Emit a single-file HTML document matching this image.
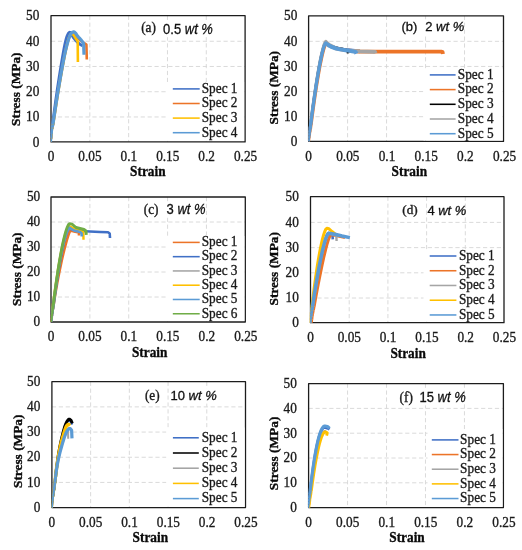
<!DOCTYPE html>
<html lang="en">
<head>
<meta charset="utf-8">
<title>Stress-strain curves</title>
<style>
html,body{margin:0;padding:0;background:#fff;}
body{width:522px;height:550px;overflow:hidden;}
svg{display:block;filter:blur(0.5px);}
.t{font-family:'Liberation Serif', serif;font-size:15.6px;fill:#1a1a1a;stroke:#1a1a1a;stroke-width:0.36px;}
.b{font-family:'Liberation Serif', serif;font-size:15.6px;font-weight:bold;fill:#0a0a0a;stroke:#0a0a0a;stroke-width:0.35px;}
.s{font-family:'Liberation Sans', sans-serif;font-size:15.0px;fill:#101010;stroke:#101010;stroke-width:0.3px;}
.g{stroke:#D6D6D6;stroke-width:0.9;stroke-dasharray:4.2 2.7;fill:none;}
.c{fill:none;stroke-linejoin:round;stroke-linecap:butt;}
</style>
</head>
<body>
<svg xmlns="http://www.w3.org/2000/svg" width="522" height="550" viewBox="0 0 522 550">
<rect x="-10" y="-10" width="542" height="570" fill="#ffffff"/>
<g id="panel-a">
<line class="g" x1="89.82" y1="15.7" x2="89.82" y2="141.9"/>
<line class="g" x1="128.64" y1="15.7" x2="128.64" y2="141.9"/>
<line class="g" x1="167.46" y1="15.7" x2="167.46" y2="141.9"/>
<line class="g" x1="206.28" y1="15.7" x2="206.28" y2="141.9"/>
<line class="g" x1="51" y1="116.96" x2="245.1" y2="116.96"/>
<line class="g" x1="51" y1="91.72" x2="245.1" y2="91.72"/>
<line class="g" x1="51" y1="66.48" x2="245.1" y2="66.48"/>
<line class="g" x1="51" y1="41.24" x2="245.1" y2="41.24"/>
<rect x="51" y="15.7" width="194.1" height="126.2" fill="none" stroke="#1c1c1c" stroke-width="1.3" stroke-linejoin="round"/>
<polyline class="c" stroke="#4070C6" stroke-width="1.43" points="51.2,141.9 51.26,140.56 51.34,138.67"/>
<polyline class="c" stroke="#4070C6" stroke-width="1.78" points="51.34,138.67 51.43,136.45 51.54,134.12"/>
<polyline class="c" stroke="#4070C6" stroke-width="2.13" points="51.54,134.12 51.66,131.9 51.8,130 51.92,128.72"/>
<polyline class="c" stroke="#4070C6" stroke-width="2.48" points="51.92,128.72 52.01,127.93 52.11,127.26"/>
<polyline class="c" stroke="#4070C6" stroke-width="2.83" points="52.11,127.26 52.27,126.3 52.52,124.68"/>
<polyline class="c" stroke="#4070C6" stroke-width="3.0" points="52.52,124.68 52.9,122 54.85,107.5 55.66,101.56 56.49,95.61 57.3,90 58.13,84.49 59.02,78.77 59.92,73.04 60.81,67.53 61.65,62.45 62.4,58 63.05,54.22 63.64,50.93 64.18,48.07 64.68,45.56 65.15,43.33 65.6,41.3 66.03,39.55 66.42,38.16 66.79,37.04 67.13,36.13 67.8,34.6 68.13,33.94 68.44,33.41 68.74,33.02 69.03,32.73 69.6,32.4 69.88,32.35 70.14,32.4 70.4,32.54 70.92,33.05 71.2,33.4 71.47,33.84 72.27,35.66 72.6,36.34 73,37 73.48,37.68 74.04,38.4 74.64,39.14 75.27,39.87 75.9,40.56 76.5,41.2 77.09,41.79 77.7,42.35 78.9,43.36 80,44.2 80.52,44.54 81.52,45.09 82.6,45.6"/>
<polyline class="c" stroke="#EC7428" stroke-width="1.24" points="51.3,141.9 51.38,140.56 51.49,138.67"/>
<polyline class="c" stroke="#EC7428" stroke-width="1.54" points="51.49,138.67 51.62,136.45 51.77,134.12"/>
<polyline class="c" stroke="#EC7428" stroke-width="1.85" points="51.77,134.12 51.93,131.9 52.1,130 52.24,128.72"/>
<polyline class="c" stroke="#EC7428" stroke-width="2.15" points="52.24,128.72 52.36,127.93 52.49,127.26"/>
<polyline class="c" stroke="#EC7428" stroke-width="2.45" points="52.49,127.26 52.67,126.3 52.96,124.68"/>
<polyline class="c" stroke="#EC7428" stroke-width="2.6" points="52.96,124.68 53.4,122 55.62,107.5 56.54,101.56 57.48,95.61 58.4,90 59.33,84.49 60.32,78.77 61.32,73.04 62.31,67.53 63.25,62.45 64.1,58 64.86,54.22 65.55,50.93 66.19,48.08 66.79,45.57 67.35,43.33 67.9,41.3 68.42,39.53 68.89,38.1 69.34,36.95 69.76,36.01 70.18,35.21 70.6,34.5 71.02,33.9 71.42,33.48 71.81,33.2 72.2,33.04 72.6,32.99 73,33 73.39,33.1 73.75,33.3 74.12,33.59 75.5,35 76.11,35.67 77.51,37.34 78.29,38.26 79.12,39.16 80,40 81.03,40.83 82.23,41.7 83.48,42.56 85.68,44.02 86.4,44.5 86.8,59.5"/>
<polyline class="c" stroke="#FFC000" stroke-width="1.24" points="51.3,141.9 51.39,140.56 51.52,138.67"/>
<polyline class="c" stroke="#FFC000" stroke-width="1.54" points="51.52,138.67 51.67,136.45 51.84,134.12"/>
<polyline class="c" stroke="#FFC000" stroke-width="1.85" points="51.84,134.12 52.02,131.9 52.2,130 52.35,128.72"/>
<polyline class="c" stroke="#FFC000" stroke-width="2.15" points="52.35,128.72 52.47,127.93 52.59,127.26"/>
<polyline class="c" stroke="#FFC000" stroke-width="2.45" points="52.59,127.26 52.78,126.3 53.06,124.68"/>
<polyline class="c" stroke="#FFC000" stroke-width="2.6" points="53.06,124.68 53.5,122 55.73,107.5 56.64,101.56 57.58,95.61 58.5,90 59.43,84.49 60.42,78.77 61.43,73.04 62.42,67.53 63.36,62.45 64.2,58 64.95,54.21 65.63,50.92 66.25,48.06 66.83,45.54 67.38,43.32 67.9,41.3 68.39,39.56 68.84,38.17 69.26,37.07 69.65,36.18 70.03,35.45 70.4,34.8 70.76,34.27 71.1,33.92 71.43,33.72 71.74,33.66 72.07,33.69 72.4,33.8 72.73,34.01 73.05,34.34 73.71,35.29 75.6,38.18 77.7,41.5 77.9,62"/>
<polyline class="c" stroke="#5B9BD5" stroke-width="1.53" points="51.3,141.9 51.37,140.56 51.46,138.67"/>
<polyline class="c" stroke="#5B9BD5" stroke-width="1.9" points="51.46,138.67 51.57,136.45 51.7,134.12"/>
<polyline class="c" stroke="#5B9BD5" stroke-width="2.27" points="51.7,134.12 51.84,131.9 52,130 52.14,128.72"/>
<polyline class="c" stroke="#5B9BD5" stroke-width="2.64" points="52.14,128.72 52.25,127.93 52.38,127.26"/>
<polyline class="c" stroke="#5B9BD5" stroke-width="3.01" points="52.38,127.26 52.57,126.3 52.86,124.68"/>
<polyline class="c" stroke="#5B9BD5" stroke-width="3.2" points="52.86,124.68 53.3,122 55.52,107.5 56.44,101.56 57.38,95.61 58.3,90 59.23,84.49 60.21,78.77 61.21,73.04 62.2,67.53 63.14,62.45 64,58 64.78,54.22 65.5,50.95 66.18,48.11 66.82,45.6 67.42,43.36 68,41.3 68.54,39.48 69.03,37.98 69.48,36.74 69.92,35.7 70.35,34.81 70.8,34 71.26,33.31 71.73,32.79 72.19,32.41 72.65,32.16 73.09,31.99 73.5,31.9 73.88,31.9 74.23,32 74.57,32.21 75.24,32.82 75.98,33.65 76.74,34.78 77.56,36.02 78,36.6 78.47,37.14 80.01,38.71 80.52,39.25 81,39.8 81.49,40.42 82.49,41.8 83.6,43.4 84,54.8"/>
<rect x="166.3" y="82" width="77.8" height="58.9" fill="#fff"/>
<line x1="172.8" y1="88.9" x2="199.7" y2="88.9" stroke="#4070C6" stroke-width="1.55"/>
<text class="t" transform="translate(201.7 92.7) scale(0.853 1)">Spec 1</text>
<line x1="172.8" y1="103.5" x2="199.7" y2="103.5" stroke="#EC7428" stroke-width="1.55"/>
<text class="t" transform="translate(201.7 107.3) scale(0.853 1)">Spec 2</text>
<line x1="172.8" y1="118.1" x2="199.7" y2="118.1" stroke="#FFC000" stroke-width="1.55"/>
<text class="t" transform="translate(201.7 121.9) scale(0.853 1)">Spec 3</text>
<line x1="172.8" y1="132.7" x2="199.7" y2="132.7" stroke="#5B9BD5" stroke-width="1.55"/>
<text class="t" transform="translate(201.7 136.5) scale(0.853 1)">Spec 4</text>
<rect x="140.7" y="21.8" width="14.5" height="15.4" fill="#fff"/>
<rect x="162.8" y="21.8" width="50.5" height="15.4" fill="#fff"/>
<text class="t" transform="translate(141.2 32.4) scale(0.95 1)"><tspan font-size="14.0px">(a)</tspan></text>
<text class="s" transform="translate(163.1 33.6) scale(0.909 1)"><tspan font-size="14.3px">0.5 <tspan font-style="italic">wt %</tspan></tspan></text>
<text class="t" text-anchor="end" transform="translate(39.4 146.5) scale(0.853 1)">0</text>
<text class="t" text-anchor="end" transform="translate(39.4 121.26) scale(0.853 1)">10</text>
<text class="t" text-anchor="end" transform="translate(39.4 96.02) scale(0.853 1)">20</text>
<text class="t" text-anchor="end" transform="translate(39.4 70.78) scale(0.853 1)">30</text>
<text class="t" text-anchor="end" transform="translate(39.4 45.54) scale(0.853 1)">40</text>
<text class="t" text-anchor="end" transform="translate(39.4 20.3) scale(0.853 1)">50</text>
<text class="t" text-anchor="middle" transform="translate(51 161.2) scale(0.881 1)"><tspan font-size="15.1px">0</tspan></text>
<text class="t" text-anchor="middle" transform="translate(89.92 161.2) scale(0.881 1)"><tspan font-size="15.1px">0.05</tspan></text>
<text class="t" text-anchor="middle" transform="translate(128.84 161.2) scale(0.881 1)"><tspan font-size="15.1px">0.1</tspan></text>
<text class="t" text-anchor="middle" transform="translate(167.76 161.2) scale(0.881 1)"><tspan font-size="15.1px">0.15</tspan></text>
<text class="t" text-anchor="middle" transform="translate(206.68 161.2) scale(0.881 1)"><tspan font-size="15.1px">0.2</tspan></text>
<text class="t" text-anchor="middle" transform="translate(245.6 161.2) scale(0.881 1)"><tspan font-size="15.1px">0.25</tspan></text>
<text class="b" text-anchor="middle" transform="translate(147.8 176) scale(0.853 1)">Strain</text>
<text class="b" text-anchor="middle" transform="translate(20.3 89.2) rotate(-90) scale(1.052 1)"><tspan font-size="12.7px">Stress (MPa)</tspan></text>
</g>
<g id="panel-b">
<line class="g" x1="347.58" y1="15.8" x2="347.58" y2="141.4"/>
<line class="g" x1="386.56" y1="15.8" x2="386.56" y2="141.4"/>
<line class="g" x1="425.54" y1="15.8" x2="425.54" y2="141.4"/>
<line class="g" x1="464.52" y1="15.8" x2="464.52" y2="141.4"/>
<line class="g" x1="308.6" y1="116.68" x2="503.5" y2="116.68"/>
<line class="g" x1="308.6" y1="91.56" x2="503.5" y2="91.56"/>
<line class="g" x1="308.6" y1="66.44" x2="503.5" y2="66.44"/>
<line class="g" x1="308.6" y1="41.32" x2="503.5" y2="41.32"/>
<rect x="308.6" y="15.8" width="194.9" height="125.6" fill="none" stroke="#1c1c1c" stroke-width="1.3" stroke-linejoin="round"/>
<polyline class="c" stroke="#4070C6" stroke-width="1.34" points="308.9,141.4 309.02,139.9 309.13,138.4"/>
<polyline class="c" stroke="#4070C6" stroke-width="1.66" points="309.13,138.4 309.25,136.9 309.37,135.4"/>
<polyline class="c" stroke="#4070C6" stroke-width="1.99" points="309.37,135.4 309.48,133.9 309.6,132.4"/>
<polyline class="c" stroke="#4070C6" stroke-width="2.31" points="309.6,132.4 309.82,130.61 310.04,128.82"/>
<polyline class="c" stroke="#4070C6" stroke-width="2.64" points="310.04,128.82 310.27,127.03 310.49,125.27"/>
<polyline class="c" stroke="#4070C6" stroke-width="2.8" points="310.49,125.27 311.6,116.59 312.27,111.54 312.93,106.6 313.6,101.77 314.27,97.07 314.93,92.48 315.6,88.03 316.27,83.7 316.93,79.51 317.6,75.47 318.27,71.57 318.93,67.83 319.6,64.26 320.27,60.86 320.93,57.64 321.6,54.63 322.27,51.84 322.93,49.28 323.6,47 324.27,45.05 324.93,43.5 325.6,42.6 329,45 335,47.5 345,49.5 355,50.5"/>
<polyline class="c" stroke="#EC7428" stroke-width="1.63" points="309.3,141.4 309.42,139.9 309.53,138.4"/>
<polyline class="c" stroke="#EC7428" stroke-width="2.02" points="309.53,138.4 309.65,136.9 309.77,135.4"/>
<polyline class="c" stroke="#EC7428" stroke-width="2.41" points="309.77,135.4 309.88,133.9 310,132.4"/>
<polyline class="c" stroke="#EC7428" stroke-width="2.81" points="310,132.4 310.23,130.62 310.45,128.84"/>
<polyline class="c" stroke="#EC7428" stroke-width="3.2" points="310.45,128.84 310.68,127.06 310.9,125.32"/>
<polyline class="c" stroke="#EC7428" stroke-width="3.4" points="310.9,125.32 312.02,116.7 312.7,111.68 313.38,106.77 314.05,101.98 314.73,97.3 315.4,92.75 316.07,88.32 316.75,84.03 317.43,79.87 318.1,75.85 318.77,71.98 319.45,68.26 320.12,64.71 320.8,61.34 321.47,58.14 322.15,55.15 322.82,52.37 323.5,49.84 324.18,47.57 324.85,45.63 325.52,44.09 326.2,43.2 330,46 336,48.5 347,50.5 360,51.5"/>
<polyline class="c" stroke="#EC7428" stroke-width="2.77" points="347,50.6 348.62,50.71"/>
<polyline class="c" stroke="#EC7428" stroke-width="3.9" points="348.62,50.71 360,51.5 400,51.6 441,51.6 442.6,52.2 442.9,54"/>
<polyline class="c" stroke="#000000" stroke-width="1.15" points="308.9,141.4 309.02,139.9 309.13,138.4"/>
<polyline class="c" stroke="#000000" stroke-width="1.43" points="309.13,138.4 309.25,136.9 309.37,135.4"/>
<polyline class="c" stroke="#000000" stroke-width="1.7" points="309.37,135.4 309.48,133.9 309.6,132.4"/>
<polyline class="c" stroke="#000000" stroke-width="1.98" points="309.6,132.4 309.82,130.61 310.04,128.82"/>
<polyline class="c" stroke="#000000" stroke-width="2.26" points="310.04,128.82 310.27,127.03 310.49,125.27"/>
<polyline class="c" stroke="#000000" stroke-width="2.4" points="310.49,125.27 311.6,116.59 312.27,111.54 312.93,106.6 313.6,101.77 314.27,97.07 314.93,92.48 315.6,88.03 316.27,83.7 316.93,79.51 317.6,75.47 318.27,71.57 318.93,67.83 319.6,64.26 320.27,60.86 320.93,57.64 321.6,54.63 322.27,51.84 322.93,49.28 323.6,47 324.27,45.05 324.93,43.5 325.6,42.6 329,45 335,47.3 345,49.4 347.6,50.3 348,53.4"/>
<polyline class="c" stroke="#A5A5A5" stroke-width="1.53" points="308.9,141.4 309.02,139.9 309.13,138.4"/>
<polyline class="c" stroke="#A5A5A5" stroke-width="1.9" points="309.13,138.4 309.25,136.9 309.37,135.4"/>
<polyline class="c" stroke="#A5A5A5" stroke-width="2.27" points="309.37,135.4 309.48,133.9 309.6,132.4"/>
<polyline class="c" stroke="#A5A5A5" stroke-width="2.64" points="309.6,132.4 309.83,130.58 310.05,128.77"/>
<polyline class="c" stroke="#A5A5A5" stroke-width="3.01" points="310.05,128.77 310.28,126.95 310.5,125.17"/>
<polyline class="c" stroke="#A5A5A5" stroke-width="3.2" points="310.5,125.17 311.62,116.38 312.3,111.26 312.98,106.25 313.65,101.36 314.33,96.59 315,91.95 315.68,87.43 316.35,83.05 317.03,78.81 317.7,74.71 318.38,70.76 319.05,66.97 319.73,63.35 320.4,59.9 321.07,56.64 321.75,53.59 322.43,50.76 323.1,48.17 323.78,45.86 324.45,43.88 325.12,42.31 325.8,41.4 329,44.5 336,48 347,50.3 360,51.4"/>
<polyline class="c" stroke="#A5A5A5" stroke-width="2.7" points="347,50.4 348.62,50.52"/>
<polyline class="c" stroke="#A5A5A5" stroke-width="3.8" points="348.62,50.52 360,51.4 375,51.8 375.6,53.2"/>
<polyline class="c" stroke="#5B9BD5" stroke-width="1.58" points="309,141.4 309.12,139.9 309.23,138.4"/>
<polyline class="c" stroke="#5B9BD5" stroke-width="1.96" points="309.23,138.4 309.35,136.9 309.47,135.4"/>
<polyline class="c" stroke="#5B9BD5" stroke-width="2.34" points="309.47,135.4 309.58,133.9 309.7,132.4"/>
<polyline class="c" stroke="#5B9BD5" stroke-width="2.73" points="309.7,132.4 309.92,130.61 310.15,128.83"/>
<polyline class="c" stroke="#5B9BD5" stroke-width="3.11" points="310.15,128.83 310.37,127.04 310.59,125.29"/>
<polyline class="c" stroke="#5B9BD5" stroke-width="3.3" points="310.59,125.29 311.71,116.65 312.38,111.61 313.05,106.68 313.73,101.87 314.4,97.18 315.07,92.62 315.74,88.17 316.41,83.86 317.08,79.69 317.75,75.66 318.42,71.78 319.09,68.05 319.76,64.49 320.43,61.1 321.1,57.89 321.77,54.89 322.45,52.1 323.12,49.56 323.79,47.29 324.46,45.34 325.13,43.79 325.8,42.9 329,45.6 336,48.3"/>
<polyline class="c" stroke="#5B9BD5" stroke-width="2.84" points="326.6,43.6 327.8,44.6"/>
<polyline class="c" stroke="#5B9BD5" stroke-width="4.0" points="327.8,44.6 329,45.6 332,47.2 336,48.5 341,49.6 347,50.4 352,51.2 355.6,51.9 356.3,53.8"/>
<rect x="423.5" y="68.5" width="79" height="71.9" fill="#fff"/>
<line x1="429.8" y1="74.9" x2="455.6" y2="74.9" stroke="#4070C6" stroke-width="1.55"/>
<text class="t" transform="translate(457.8 78.7) scale(0.853 1)">Spec 1</text>
<line x1="429.8" y1="89.6" x2="455.6" y2="89.6" stroke="#EC7428" stroke-width="1.55"/>
<text class="t" transform="translate(457.8 93.4) scale(0.853 1)">Spec 2</text>
<line x1="429.8" y1="104.3" x2="455.6" y2="104.3" stroke="#000000" stroke-width="1.55"/>
<text class="t" transform="translate(457.8 108.1) scale(0.853 1)">Spec 3</text>
<line x1="429.8" y1="119" x2="455.6" y2="119" stroke="#A5A5A5" stroke-width="1.55"/>
<text class="t" transform="translate(457.8 122.8) scale(0.853 1)">Spec 4</text>
<line x1="429.8" y1="133.7" x2="455.6" y2="133.7" stroke="#5B9BD5" stroke-width="1.55"/>
<text class="t" transform="translate(457.8 137.5) scale(0.853 1)">Spec 5</text>
<rect x="400.9" y="19.2" width="14.5" height="15.4" fill="#fff"/>
<rect x="424.9" y="19.2" width="37.1" height="15.4" fill="#fff"/>
<text class="s" transform="translate(401.4 31.4) scale(0.985 1)"><tspan font-size="13.2px">(b)</tspan></text>
<text class="s" transform="translate(425.2 31) scale(1.0 1)"><tspan font-size="13.0px">2 <tspan font-style="italic">wt %</tspan></tspan></text>
<text class="t" text-anchor="end" transform="translate(297.3 146) scale(0.853 1)">0</text>
<text class="t" text-anchor="end" transform="translate(297.3 120.88) scale(0.853 1)">10</text>
<text class="t" text-anchor="end" transform="translate(297.3 95.76) scale(0.853 1)">20</text>
<text class="t" text-anchor="end" transform="translate(297.3 70.64) scale(0.853 1)">30</text>
<text class="t" text-anchor="end" transform="translate(297.3 45.52) scale(0.853 1)">40</text>
<text class="t" text-anchor="end" transform="translate(297.3 20.4) scale(0.853 1)">50</text>
<text class="t" text-anchor="middle" transform="translate(308.6 160.7) scale(0.881 1)"><tspan font-size="15.1px">0</tspan></text>
<text class="t" text-anchor="middle" transform="translate(347.8 160.7) scale(0.881 1)"><tspan font-size="15.1px">0.05</tspan></text>
<text class="t" text-anchor="middle" transform="translate(387 160.7) scale(0.881 1)"><tspan font-size="15.1px">0.1</tspan></text>
<text class="t" text-anchor="middle" transform="translate(426.2 160.7) scale(0.881 1)"><tspan font-size="15.1px">0.15</tspan></text>
<text class="t" text-anchor="middle" transform="translate(465.4 160.7) scale(0.881 1)"><tspan font-size="15.1px">0.2</tspan></text>
<text class="t" text-anchor="middle" transform="translate(504.6 160.7) scale(0.881 1)"><tspan font-size="15.1px">0.25</tspan></text>
<text class="b" text-anchor="middle" transform="translate(409.3 176.2) scale(0.853 1)">Strain</text>
<text class="b" text-anchor="middle" transform="translate(277.8 87.7) rotate(-90) scale(1.052 1)"><tspan font-size="12.7px">Stress (MPa)</tspan></text>
</g>
<g id="panel-c">
<line class="g" x1="89.86" y1="197" x2="89.86" y2="322"/>
<line class="g" x1="128.72" y1="197" x2="128.72" y2="322"/>
<line class="g" x1="167.58" y1="197" x2="167.58" y2="322"/>
<line class="g" x1="206.44" y1="197" x2="206.44" y2="322"/>
<line class="g" x1="51" y1="297" x2="245.3" y2="297"/>
<line class="g" x1="51" y1="272" x2="245.3" y2="272"/>
<line class="g" x1="51" y1="247" x2="245.3" y2="247"/>
<line class="g" x1="51" y1="222" x2="245.3" y2="222"/>
<rect x="51" y="197" width="194.3" height="125" fill="none" stroke="#1c1c1c" stroke-width="1.3" stroke-linejoin="round"/>
<polyline class="c" stroke="#EC7428" stroke-width="1.24" points="51.8,322 51.92,320.5 52.03,319"/>
<polyline class="c" stroke="#EC7428" stroke-width="1.54" points="52.03,319 52.15,317.5 52.27,316"/>
<polyline class="c" stroke="#EC7428" stroke-width="1.85" points="52.27,316 52.38,314.5 52.5,313"/>
<polyline class="c" stroke="#EC7428" stroke-width="2.15" points="52.5,313 52.76,311.19 53.01,309.38"/>
<polyline class="c" stroke="#EC7428" stroke-width="2.45" points="53.01,309.38 53.27,307.58 53.53,305.81"/>
<polyline class="c" stroke="#EC7428" stroke-width="2.6" points="53.53,305.81 54.05,302.29 54.85,297.15 55.67,292.15 56.5,287.3 57.34,282.6 58.19,278.06 59.03,273.67 59.88,269.45 60.73,265.39 61.56,261.5 62.39,257.78 63.21,254.25 64.02,250.9 64.8,247.75 65.57,244.81 66.31,242.07 67.02,239.57 67.71,237.3 68.36,235.29 68.98,233.56 69.56,232.15 70.1,231.11 70.6,230.6 74,231.5 78.8,232.5 79,235.5"/>
<polyline class="c" stroke="#4070C6" stroke-width="1.24" points="51.9,322 52.02,320.5 52.13,319"/>
<polyline class="c" stroke="#4070C6" stroke-width="1.54" points="52.13,319 52.25,317.5 52.37,316"/>
<polyline class="c" stroke="#4070C6" stroke-width="1.85" points="52.37,316 52.48,314.5 52.6,313"/>
<polyline class="c" stroke="#4070C6" stroke-width="2.15" points="52.6,313 52.83,311.15 53.07,309.29"/>
<polyline class="c" stroke="#4070C6" stroke-width="2.45" points="53.07,309.29 53.3,307.44 53.53,305.63"/>
<polyline class="c" stroke="#4070C6" stroke-width="2.6" points="53.53,305.63 54,302.02 54.7,296.74 55.4,291.62 56.1,286.65 56.8,281.83 57.5,277.17 58.2,272.67 58.9,268.33 59.6,264.17 60.3,260.18 61,256.37 61.7,252.75 62.4,249.32 63.1,246.09 63.8,243.07 64.5,240.27 65.2,237.7 65.9,235.37 66.6,233.31 67.3,231.53 68,230.09 68.7,229.02 69.4,228.5 74,230 80,231 100,232 108,232.3 109.7,233.5 110,238"/>
<polyline class="c" stroke="#A5A5A5" stroke-width="1.15" points="51.5,322 51.62,320.5 51.73,319"/>
<polyline class="c" stroke="#A5A5A5" stroke-width="1.43" points="51.73,319 51.85,317.5 51.97,316"/>
<polyline class="c" stroke="#A5A5A5" stroke-width="1.7" points="51.97,316 52.08,314.5 52.2,313"/>
<polyline class="c" stroke="#A5A5A5" stroke-width="1.98" points="52.2,313 52.44,311.13 52.67,309.27"/>
<polyline class="c" stroke="#A5A5A5" stroke-width="2.26" points="52.67,309.27 52.91,307.4 53.14,305.59"/>
<polyline class="c" stroke="#A5A5A5" stroke-width="2.4" points="53.14,305.59 53.62,301.95 54.33,296.65 55.03,291.49 55.74,286.49 56.45,281.64 57.16,276.96 57.87,272.43 58.58,268.07 59.28,263.88 59.99,259.87 60.7,256.04 61.41,252.4 62.12,248.95 62.83,245.7 63.53,242.66 64.24,239.84 64.95,237.25 65.66,234.91 66.37,232.83 67.08,231.05 67.78,229.59 68.49,228.53 69.2,228 74,230 80,231.5 82,234"/>
<polyline class="c" stroke="#FFC000" stroke-width="1.15" points="51.2,322 51.32,320.5 51.43,319"/>
<polyline class="c" stroke="#FFC000" stroke-width="1.43" points="51.43,319 51.55,317.5 51.67,316"/>
<polyline class="c" stroke="#FFC000" stroke-width="1.7" points="51.67,316 51.78,314.5 51.9,313"/>
<polyline class="c" stroke="#FFC000" stroke-width="1.98" points="51.9,313 52.14,311.09 52.38,309.18"/>
<polyline class="c" stroke="#FFC000" stroke-width="2.26" points="52.38,309.18 52.62,307.27 52.86,305.41"/>
<polyline class="c" stroke="#FFC000" stroke-width="2.4" points="52.86,305.41 53.34,301.69 54.06,296.26 54.78,290.99 55.5,285.87 56.23,280.91 56.95,276.11 57.67,271.48 58.39,267.01 59.11,262.73 59.83,258.62 60.55,254.7 61.27,250.97 61.99,247.44 62.71,244.11 63.43,241 64.15,238.12 64.88,235.47 65.6,233.07 66.32,230.95 67.04,229.12 67.76,227.63 68.48,226.54 69.2,226 74,228.5 80,230.5 83.3,232 83.5,239.7"/>
<polyline class="c" stroke="#5B9BD5" stroke-width="1.24" points="51.5,322 51.62,320.5 51.73,319"/>
<polyline class="c" stroke="#5B9BD5" stroke-width="1.54" points="51.73,319 51.85,317.5 51.97,316"/>
<polyline class="c" stroke="#5B9BD5" stroke-width="1.85" points="51.97,316 52.08,314.5 52.2,313"/>
<polyline class="c" stroke="#5B9BD5" stroke-width="2.15" points="52.2,313 52.44,311.12 52.67,309.25"/>
<polyline class="c" stroke="#5B9BD5" stroke-width="2.45" points="52.67,309.25 52.91,307.37 53.14,305.54"/>
<polyline class="c" stroke="#5B9BD5" stroke-width="2.6" points="53.14,305.54 53.62,301.89 54.33,296.55 55.03,291.37 55.74,286.33 56.45,281.46 57.16,276.74 57.87,272.19 58.58,267.81 59.28,263.59 59.99,259.56 60.7,255.7 61.41,252.04 62.12,248.57 62.83,245.3 63.53,242.24 64.24,239.41 64.95,236.8 65.66,234.45 66.37,232.36 67.08,230.57 67.78,229.1 68.49,228.03 69.2,227.5 74,230.5 80,232 81.5,233 81.8,236.5"/>
<polyline class="c" stroke="#70AD47" stroke-width="1.39" points="51.55,322 51.67,320.5 51.78,319"/>
<polyline class="c" stroke="#70AD47" stroke-width="1.72" points="51.78,319 51.9,317.5 52.02,316"/>
<polyline class="c" stroke="#70AD47" stroke-width="2.06" points="52.02,316 52.13,314.5 52.25,313"/>
<polyline class="c" stroke="#70AD47" stroke-width="2.4" points="52.25,313 52.49,311.04 52.73,309.08"/>
<polyline class="c" stroke="#70AD47" stroke-width="2.73" points="52.73,309.08 52.97,307.11 53.21,305.2"/>
<polyline class="c" stroke="#70AD47" stroke-width="2.9" points="53.21,305.2 53.7,301.38 54.42,295.8 55.14,290.38 55.86,285.12 56.59,280.02 57.31,275.09 58.03,270.33 58.76,265.74 59.48,261.34 60.2,257.12 60.92,253.09 61.65,249.26 62.37,245.63 63.09,242.21 63.82,239.01 64.54,236.05 65.26,233.33 65.99,230.87 66.71,228.69 67.43,226.81 68.15,225.28 68.88,224.15 69.6,223.6 72,224.2 76,227.5 84,229.5 86,231 86.3,234.8"/>
<rect x="166.3" y="236" width="78" height="85" fill="#fff"/>
<line x1="172.8" y1="242.4" x2="199.7" y2="242.4" stroke="#EC7428" stroke-width="1.55"/>
<text class="t" transform="translate(201.7 246.2) scale(0.853 1)">Spec 1</text>
<line x1="172.8" y1="256.67" x2="199.7" y2="256.67" stroke="#4070C6" stroke-width="1.55"/>
<text class="t" transform="translate(201.7 260.47) scale(0.853 1)">Spec 2</text>
<line x1="172.8" y1="270.94" x2="199.7" y2="270.94" stroke="#A5A5A5" stroke-width="1.55"/>
<text class="t" transform="translate(201.7 274.74) scale(0.853 1)">Spec 3</text>
<line x1="172.8" y1="285.21" x2="199.7" y2="285.21" stroke="#FFC000" stroke-width="1.55"/>
<text class="t" transform="translate(201.7 289.01) scale(0.853 1)">Spec 4</text>
<line x1="172.8" y1="299.48" x2="199.7" y2="299.48" stroke="#5B9BD5" stroke-width="1.55"/>
<text class="t" transform="translate(201.7 303.28) scale(0.853 1)">Spec 5</text>
<line x1="172.8" y1="313.75" x2="199.7" y2="313.75" stroke="#70AD47" stroke-width="1.55"/>
<text class="t" transform="translate(201.7 317.55) scale(0.853 1)">Spec 6</text>
<rect x="143.3" y="202" width="14.5" height="15.4" fill="#fff"/>
<rect x="166.3" y="202" width="37.1" height="15.4" fill="#fff"/>
<text class="t" transform="translate(143.8 213.5) scale(0.95 1)"><tspan font-size="14.0px">(c)</tspan></text>
<text class="s" transform="translate(166.6 213.8) scale(0.909 1)"><tspan font-size="14.3px">3 <tspan font-style="italic">wt %</tspan></tspan></text>
<text class="t" text-anchor="end" transform="translate(40.2 325.5) scale(0.853 1)">0</text>
<text class="t" text-anchor="end" transform="translate(40.2 300.5) scale(0.853 1)">10</text>
<text class="t" text-anchor="end" transform="translate(40.2 275.5) scale(0.853 1)">20</text>
<text class="t" text-anchor="end" transform="translate(40.2 250.5) scale(0.853 1)">30</text>
<text class="t" text-anchor="end" transform="translate(40.2 225.5) scale(0.853 1)">40</text>
<text class="t" text-anchor="end" transform="translate(40.2 200.5) scale(0.853 1)">50</text>
<text class="t" text-anchor="middle" transform="translate(51 341.3) scale(0.881 1)"><tspan font-size="15.1px">0</tspan></text>
<text class="t" text-anchor="middle" transform="translate(89.96 341.3) scale(0.881 1)"><tspan font-size="15.1px">0.05</tspan></text>
<text class="t" text-anchor="middle" transform="translate(128.92 341.3) scale(0.881 1)"><tspan font-size="15.1px">0.1</tspan></text>
<text class="t" text-anchor="middle" transform="translate(167.88 341.3) scale(0.881 1)"><tspan font-size="15.1px">0.15</tspan></text>
<text class="t" text-anchor="middle" transform="translate(206.84 341.3) scale(0.881 1)"><tspan font-size="15.1px">0.2</tspan></text>
<text class="t" text-anchor="middle" transform="translate(245.8 341.3) scale(0.881 1)"><tspan font-size="15.1px">0.25</tspan></text>
<text class="b" text-anchor="middle" transform="translate(149.7 357) scale(0.853 1)">Strain</text>
<text class="b" text-anchor="middle" transform="translate(20.6 269.2) rotate(-90) scale(1.052 1)"><tspan font-size="12.7px">Stress (MPa)</tspan></text>
</g>
<g id="panel-d">
<line class="g" x1="349.2" y1="196.7" x2="349.2" y2="322.7"/>
<line class="g" x1="387.9" y1="196.7" x2="387.9" y2="322.7"/>
<line class="g" x1="426.6" y1="196.7" x2="426.6" y2="322.7"/>
<line class="g" x1="465.3" y1="196.7" x2="465.3" y2="322.7"/>
<line class="g" x1="310.5" y1="298" x2="504" y2="298"/>
<line class="g" x1="310.5" y1="272.8" x2="504" y2="272.8"/>
<line class="g" x1="310.5" y1="247.6" x2="504" y2="247.6"/>
<line class="g" x1="310.5" y1="222.4" x2="504" y2="222.4"/>
<rect x="310.5" y="196.7" width="193.5" height="126" fill="none" stroke="#1c1c1c" stroke-width="1.3" stroke-linejoin="round"/>
<polyline class="c" stroke="#4070C6" stroke-width="1.24" points="311.1,322.7 311.22,321.2 311.33,319.7"/>
<polyline class="c" stroke="#4070C6" stroke-width="1.54" points="311.33,319.7 311.45,318.2 311.57,316.7"/>
<polyline class="c" stroke="#4070C6" stroke-width="1.85" points="311.57,316.7 311.68,315.2 311.8,313.7"/>
<polyline class="c" stroke="#4070C6" stroke-width="2.15" points="311.8,313.7 312.06,311.93 312.31,310.16"/>
<polyline class="c" stroke="#4070C6" stroke-width="2.45" points="312.31,310.16 312.57,308.39 312.83,306.66"/>
<polyline class="c" stroke="#4070C6" stroke-width="2.6" points="312.83,306.66 313.34,303.21 314.1,298.18 314.87,293.28 315.62,288.53 316.37,283.93 317.12,279.48 317.85,275.18 318.58,271.04 319.3,267.07 320,263.26 320.7,259.62 321.39,256.16 322.06,252.89 322.73,249.8 323.39,246.91 324.03,244.24 324.67,241.78 325.31,239.56 325.93,237.59 326.55,235.9 327.17,234.51 327.79,233.5 328.4,233 332.4,234.5 332.8,239.4"/>
<polyline class="c" stroke="#EC7428" stroke-width="1.43" points="312.2,322.7 312.32,321.2 312.43,319.7"/>
<polyline class="c" stroke="#EC7428" stroke-width="1.78" points="312.43,319.7 312.55,318.2 312.67,316.7"/>
<polyline class="c" stroke="#EC7428" stroke-width="2.13" points="312.67,316.7 312.78,315.2 312.9,313.7"/>
<polyline class="c" stroke="#EC7428" stroke-width="2.48" points="312.9,313.7 313.2,311.96 313.5,310.23"/>
<polyline class="c" stroke="#EC7428" stroke-width="2.83" points="313.5,310.23 313.79,308.49 314.09,306.8"/>
<polyline class="c" stroke="#EC7428" stroke-width="3.0" points="314.09,306.8 314.68,303.42 315.57,298.48 316.45,293.69 317.32,289.03 318.18,284.52 319.03,280.16 319.87,275.95 320.69,271.89 321.49,267.99 322.28,264.26 323.05,260.69 323.8,257.3 324.54,254.09 325.26,251.07 325.97,248.24 326.66,245.62 327.33,243.21 328,241.03 328.65,239.1 329.3,237.44 329.93,236.08 330.57,235.09 331.2,234.6 336,235.5 345,237.5"/>
<polyline class="c" stroke="#A5A5A5" stroke-width="1.15" points="311.1,322.7 311.22,321.2 311.33,319.7"/>
<polyline class="c" stroke="#A5A5A5" stroke-width="1.43" points="311.33,319.7 311.45,318.2 311.57,316.7"/>
<polyline class="c" stroke="#A5A5A5" stroke-width="1.7" points="311.57,316.7 311.68,315.2 311.8,313.7"/>
<polyline class="c" stroke="#A5A5A5" stroke-width="1.98" points="311.8,313.7 312.06,311.93 312.31,310.16"/>
<polyline class="c" stroke="#A5A5A5" stroke-width="2.26" points="312.31,310.16 312.57,308.39 312.83,306.66"/>
<polyline class="c" stroke="#A5A5A5" stroke-width="2.4" points="312.83,306.66 313.34,303.21 314.1,298.18 314.87,293.28 315.62,288.53 316.37,283.93 317.12,279.48 317.85,275.18 318.58,271.04 319.3,267.07 320,263.26 320.7,259.62 321.39,256.16 322.06,252.89 322.73,249.8 323.39,246.91 324.03,244.24 324.67,241.78 325.31,239.56 325.93,237.59 326.55,235.9 327.17,234.51 327.79,233.5 328.4,233 333,234.5 336.3,235.3 336.6,241"/>
<polyline class="c" stroke="#FFC000" stroke-width="1.43" points="310.3,322.7 310.42,321.2 310.53,319.7"/>
<polyline class="c" stroke="#FFC000" stroke-width="1.78" points="310.53,319.7 310.65,318.2 310.77,316.7"/>
<polyline class="c" stroke="#FFC000" stroke-width="2.13" points="310.77,316.7 310.88,315.2 311,313.7"/>
<polyline class="c" stroke="#FFC000" stroke-width="2.48" points="311,313.7 311.22,311.83 311.44,309.95"/>
<polyline class="c" stroke="#FFC000" stroke-width="2.83" points="311.44,309.95 311.66,308.08 311.88,306.25"/>
<polyline class="c" stroke="#FFC000" stroke-width="3.0" points="311.88,306.25 312.32,302.6 312.98,297.27 313.63,292.09 314.29,287.07 314.95,282.2 315.61,277.49 316.27,272.94 316.93,268.56 317.58,264.35 318.24,260.32 318.9,256.47 319.56,252.81 320.22,249.34 320.88,246.08 321.53,243.03 322.19,240.19 322.85,237.59 323.51,235.24 324.17,233.16 324.82,231.37 325.48,229.9 326.14,228.83 326.8,228.3 329,228.8 332,231.5 335,234"/>
<polyline class="c" stroke="#5B9BD5" stroke-width="1.67" points="310.7,322.7 310.82,321.2 310.93,319.7"/>
<polyline class="c" stroke="#5B9BD5" stroke-width="2.08" points="310.93,319.7 311.05,318.2 311.17,316.7"/>
<polyline class="c" stroke="#5B9BD5" stroke-width="2.48" points="311.17,316.7 311.28,315.2 311.4,313.7"/>
<polyline class="c" stroke="#5B9BD5" stroke-width="2.89" points="311.4,313.7 311.66,311.93 311.92,310.17"/>
<polyline class="c" stroke="#5B9BD5" stroke-width="3.3" points="311.92,310.17 312.18,308.4 312.44,306.68"/>
<polyline class="c" stroke="#5B9BD5" stroke-width="3.5" points="312.44,306.68 312.95,303.24 313.73,298.21 314.5,293.33 315.27,288.59 316.03,284 316.79,279.56 317.55,275.28 318.29,271.15 319.04,267.18 319.77,263.38 320.5,259.76 321.22,256.3 321.94,253.04 322.64,249.96 323.35,247.08 324.04,244.41 324.73,241.96 325.42,239.74 326.1,237.78 326.78,236.09 327.45,234.71 328.13,233.7 328.8,233.2 335,234.3 342,236 349.9,237.6"/>
<rect x="423.5" y="249.5" width="79.5" height="72.2" fill="#fff"/>
<line x1="429.7" y1="256" x2="456.4" y2="256" stroke="#4070C6" stroke-width="1.55"/>
<text class="t" transform="translate(458.9 259.8) scale(0.853 1)">Spec 1</text>
<line x1="429.7" y1="270.74" x2="456.4" y2="270.74" stroke="#EC7428" stroke-width="1.55"/>
<text class="t" transform="translate(458.9 274.54) scale(0.853 1)">Spec 2</text>
<line x1="429.7" y1="285.48" x2="456.4" y2="285.48" stroke="#A5A5A5" stroke-width="1.55"/>
<text class="t" transform="translate(458.9 289.28) scale(0.853 1)">Spec 3</text>
<line x1="429.7" y1="300.22" x2="456.4" y2="300.22" stroke="#FFC000" stroke-width="1.55"/>
<text class="t" transform="translate(458.9 304.02) scale(0.853 1)">Spec 4</text>
<line x1="429.7" y1="314.96" x2="456.4" y2="314.96" stroke="#5B9BD5" stroke-width="1.55"/>
<text class="t" transform="translate(458.9 318.76) scale(0.853 1)">Spec 5</text>
<rect x="401.7" y="202.8" width="14.5" height="15.4" fill="#fff"/>
<rect x="427.1" y="202.8" width="37.1" height="15.4" fill="#fff"/>
<text class="t" transform="translate(402.2 214) scale(1.008 1)"><tspan font-size="13.2px">(d)</tspan></text>
<text class="s" transform="translate(427.4 214.6) scale(0.985 1)"><tspan font-size="13.2px">4 <tspan font-style="italic">wt %</tspan></tspan></text>
<text class="t" text-anchor="end" transform="translate(298.9 327.3) scale(0.853 1)">0</text>
<text class="t" text-anchor="end" transform="translate(298.9 302.1) scale(0.853 1)">10</text>
<text class="t" text-anchor="end" transform="translate(298.9 276.9) scale(0.853 1)">20</text>
<text class="t" text-anchor="end" transform="translate(298.9 251.7) scale(0.853 1)">30</text>
<text class="t" text-anchor="end" transform="translate(298.9 226.5) scale(0.853 1)">40</text>
<text class="t" text-anchor="end" transform="translate(298.9 201.3) scale(0.853 1)">50</text>
<text class="t" text-anchor="middle" transform="translate(310.5 342.3) scale(0.881 1)"><tspan font-size="15.1px">0</tspan></text>
<text class="t" text-anchor="middle" transform="translate(349.3 342.3) scale(0.881 1)"><tspan font-size="15.1px">0.05</tspan></text>
<text class="t" text-anchor="middle" transform="translate(388.1 342.3) scale(0.881 1)"><tspan font-size="15.1px">0.1</tspan></text>
<text class="t" text-anchor="middle" transform="translate(426.9 342.3) scale(0.881 1)"><tspan font-size="15.1px">0.15</tspan></text>
<text class="t" text-anchor="middle" transform="translate(465.7 342.3) scale(0.881 1)"><tspan font-size="15.1px">0.2</tspan></text>
<text class="t" text-anchor="middle" transform="translate(504.5 342.3) scale(0.881 1)"><tspan font-size="15.1px">0.25</tspan></text>
<text class="b" text-anchor="middle" transform="translate(408.1 357.8) scale(0.853 1)">Strain</text>
<text class="b" text-anchor="middle" transform="translate(278.2 268.8) rotate(-90) scale(1.052 1)"><tspan font-size="12.7px">Stress (MPa)</tspan></text>
</g>
<g id="panel-e">
<line class="g" x1="90.62" y1="381.7" x2="90.62" y2="507.6"/>
<line class="g" x1="129.34" y1="381.7" x2="129.34" y2="507.6"/>
<line class="g" x1="168.06" y1="381.7" x2="168.06" y2="507.6"/>
<line class="g" x1="206.78" y1="381.7" x2="206.78" y2="507.6"/>
<line class="g" x1="51.9" y1="482.42" x2="245.5" y2="482.42"/>
<line class="g" x1="51.9" y1="457.24" x2="245.5" y2="457.24"/>
<line class="g" x1="51.9" y1="432.06" x2="245.5" y2="432.06"/>
<line class="g" x1="51.9" y1="406.88" x2="245.5" y2="406.88"/>
<rect x="51.9" y="381.7" width="193.6" height="125.9" fill="none" stroke="#1c1c1c" stroke-width="1.3" stroke-linejoin="round"/>
<polyline class="c" stroke="#4070C6" stroke-width="1.15" points="52.2,507.6 52.28,506.56 52.39,505.13 52.52,503.43 52.67,501.59"/>
<polyline class="c" stroke="#4070C6" stroke-width="1.43" points="52.67,501.59 52.83,499.73 53,498 53.18,496.44"/>
<polyline class="c" stroke="#4070C6" stroke-width="1.7" points="53.18,496.44 53.37,494.96 53.58,493.46 53.8,491.87 54.04,490.08"/>
<polyline class="c" stroke="#4070C6" stroke-width="1.98" points="54.04,490.08 54.3,488 54.58,485.54 54.89,482.75"/>
<polyline class="c" stroke="#4070C6" stroke-width="2.26" points="54.89,482.75 55.05,481.26 55.21,479.76 55.38,478.24 55.54,476.72"/>
<polyline class="c" stroke="#4070C6" stroke-width="2.4" points="55.54,476.72 55.88,473.75 56.2,471 56.82,466.01 57.13,463.64 57.44,461.33 57.76,459.05 58.1,456.8 58.46,454.56 58.83,452.36 59.21,450.2 59.6,448.08 59.99,446.01 60.4,444 60.82,442.03 61.25,440.1 61.69,438.21 62.13,436.39 62.57,434.65 63.42,431.43 63.82,429.91 64.22,428.47 64.63,427.13 65.06,425.9 65.5,424.8 65.97,423.8 66.47,422.88 66.98,422.08 67.49,421.41 68,420.91 68.5,420.6 69.02,420.57 69.58,420.82 70.14,421.24 71.09,422.13 71.4,422.4 72,424.6"/>
<polyline class="c" stroke="#000000" stroke-width="1.43" points="52.2,507.6 52.28,506.56 52.39,505.13 52.52,503.43 52.67,501.59"/>
<polyline class="c" stroke="#000000" stroke-width="1.78" points="52.67,501.59 52.83,499.73 53,498 53.18,496.44"/>
<polyline class="c" stroke="#000000" stroke-width="2.13" points="53.18,496.44 53.37,494.96 53.58,493.46 53.8,491.87 54.04,490.08"/>
<polyline class="c" stroke="#000000" stroke-width="2.48" points="54.04,490.08 54.3,488 54.58,485.54 54.89,482.75"/>
<polyline class="c" stroke="#000000" stroke-width="2.83" points="54.89,482.75 55.05,481.26 55.21,479.76 55.38,478.24 55.54,476.72"/>
<polyline class="c" stroke="#000000" stroke-width="3.0" points="55.54,476.72 55.88,473.75 56.2,471 56.82,466.01 57.13,463.64 57.44,461.33 57.76,459.05 58.1,456.8 58.46,454.56 58.83,452.36 59.21,450.2 59.6,448.08 59.99,446.01 60.4,444 60.82,442.03 61.25,440.11 61.69,438.23 62.13,436.41 62.57,434.67 63.82,429.86 64.22,428.38 64.63,426.99 65.05,425.69 65.5,424.5 65.99,423.38 66.51,422.32 67.06,421.36 67.6,420.52 68.12,419.86 68.6,419.4 69.05,419.19 69.5,419.21 69.92,419.39 70.31,419.69 71,420.4 71.28,420.82 71.53,421.36 71.93,422.55 72.2,423.4"/>
<polyline class="c" stroke="#A5A5A5" stroke-width="0.96" points="52.2,507.6 52.28,506.56 52.39,505.13 52.52,503.43 52.67,501.59"/>
<polyline class="c" stroke="#A5A5A5" stroke-width="1.19" points="52.67,501.59 52.83,499.73 53,498 53.18,496.44"/>
<polyline class="c" stroke="#A5A5A5" stroke-width="1.42" points="53.18,496.44 53.37,494.96 53.58,493.46 53.8,491.87 54.04,490.08"/>
<polyline class="c" stroke="#A5A5A5" stroke-width="1.65" points="54.04,490.08 54.3,488 54.59,485.54 54.89,482.75"/>
<polyline class="c" stroke="#A5A5A5" stroke-width="1.88" points="54.89,482.75 55.06,481.26 55.22,479.76 55.39,478.24 55.56,476.72"/>
<polyline class="c" stroke="#A5A5A5" stroke-width="2.0" points="55.56,476.72 55.92,473.75 56.3,471 56.68,468.48 57.07,466.08 57.47,463.76 57.91,461.47 58.38,459.17 58.9,456.8 59.5,454.3 60.16,451.7 60.87,449.08 61.58,446.53 62.27,444.14 62.9,442 63.48,440.08 64.04,438.31 64.58,436.7 65.08,435.27 65.56,434.03 66,433 66.42,432.24 66.82,431.74 67.19,431.44 67.8,431.14 68,431 68.2,438.7"/>
<polyline class="c" stroke="#FFC000" stroke-width="1.63" points="52.2,507.6 52.28,506.56 52.39,505.13 52.52,503.43 52.67,501.59"/>
<polyline class="c" stroke="#FFC000" stroke-width="2.02" points="52.67,501.59 52.83,499.73 53,498 53.18,496.44"/>
<polyline class="c" stroke="#FFC000" stroke-width="2.41" points="53.18,496.44 53.37,494.96 53.58,493.46 53.8,491.87 54.04,490.08"/>
<polyline class="c" stroke="#FFC000" stroke-width="2.81" points="54.04,490.08 54.3,488 54.58,485.54 54.88,482.75"/>
<polyline class="c" stroke="#FFC000" stroke-width="3.2" points="54.88,482.75 55.04,481.26 55.2,479.76 55.36,478.24 55.53,476.72"/>
<polyline class="c" stroke="#FFC000" stroke-width="3.4" points="55.53,476.72 55.86,473.75 56.2,471 56.53,468.46 56.87,466.01 57.21,463.64 57.56,461.33 57.92,459.05 58.3,456.8 58.69,454.55 59.09,452.33 59.51,450.14 59.93,448.01 60.36,445.96 60.8,444 61.25,442.14 61.73,440.35 62.21,438.64 62.69,437.01 64.03,432.61 64.84,430.04 65.23,428.9 65.62,427.88 66,427 66.38,426.27 66.76,425.67 67.14,425.19 67.5,424.82 67.86,424.56 68.2,424.4 68.54,424.39 68.9,424.56 69.24,424.84 70,425.6"/>
<polyline class="c" stroke="#5B9BD5" stroke-width="1.53" points="52.2,507.6 52.28,506.56 52.39,505.13 52.52,503.43 52.67,501.59"/>
<polyline class="c" stroke="#5B9BD5" stroke-width="1.9" points="52.67,501.59 52.83,499.73 53,498 53.18,496.44"/>
<polyline class="c" stroke="#5B9BD5" stroke-width="2.27" points="53.18,496.44 53.37,494.96 53.58,493.46 53.8,491.87 54.04,490.08"/>
<polyline class="c" stroke="#5B9BD5" stroke-width="2.64" points="54.04,490.08 54.3,488 54.59,485.54 54.89,482.75"/>
<polyline class="c" stroke="#5B9BD5" stroke-width="3.01" points="54.89,482.75 55.06,481.26 55.22,479.76 55.39,478.24 55.56,476.72"/>
<polyline class="c" stroke="#5B9BD5" stroke-width="3.2" points="55.56,476.72 55.92,473.75 56.3,471 56.68,468.48 57.07,466.08 57.47,463.76 57.91,461.47 58.38,459.17 58.9,456.8 59.5,454.3 60.17,451.68 60.88,449.04 61.6,446.49 62.28,444.11 62.9,442 63.46,440.17 63.97,438.53 64.46,437.07 64.93,435.76 65.37,434.58 65.8,433.5 66.21,432.55 66.59,431.76 66.96,431.09 67.31,430.52 68,429.6 68.35,429.22 68.7,428.92 69.04,428.7 69.37,428.56 69.69,428.49 70,428.5 70.31,428.64 70.62,428.92 71.6,430.2 72,438.4"/>
<rect x="166.3" y="427.5" width="78.2" height="79.1" fill="#fff"/>
<line x1="172.9" y1="437.8" x2="198.8" y2="437.8" stroke="#4070C6" stroke-width="1.55"/>
<text class="t" transform="translate(201.7 441.6) scale(0.853 1)">Spec 1</text>
<line x1="172.9" y1="453" x2="198.8" y2="453" stroke="#000000" stroke-width="1.55"/>
<text class="t" transform="translate(201.7 456.8) scale(0.853 1)">Spec 2</text>
<line x1="172.9" y1="468.2" x2="198.8" y2="468.2" stroke="#A5A5A5" stroke-width="1.55"/>
<text class="t" transform="translate(201.7 472) scale(0.853 1)">Spec 3</text>
<line x1="172.9" y1="483.4" x2="198.8" y2="483.4" stroke="#FFC000" stroke-width="1.55"/>
<text class="t" transform="translate(201.7 487.2) scale(0.853 1)">Spec 4</text>
<line x1="172.9" y1="498.6" x2="198.8" y2="498.6" stroke="#5B9BD5" stroke-width="1.55"/>
<text class="t" transform="translate(201.7 502.4) scale(0.853 1)">Spec 5</text>
<rect x="144.4" y="388.2" width="14.5" height="15.4" fill="#fff"/>
<rect x="170.2" y="388.2" width="43.8" height="15.4" fill="#fff"/>
<text class="t" transform="translate(144.9 399.7) scale(0.95 1)"><tspan font-size="14.0px">(e)</tspan></text>
<text class="s" transform="translate(170.5 400) scale(0.985 1)"><tspan font-size="13.2px">10 <tspan font-style="italic">wt %</tspan></tspan></text>
<text class="t" text-anchor="end" transform="translate(40.4 511.7) scale(0.853 1)">0</text>
<text class="t" text-anchor="end" transform="translate(40.4 486.52) scale(0.853 1)">10</text>
<text class="t" text-anchor="end" transform="translate(40.4 461.34) scale(0.853 1)">20</text>
<text class="t" text-anchor="end" transform="translate(40.4 436.16) scale(0.853 1)">30</text>
<text class="t" text-anchor="end" transform="translate(40.4 410.98) scale(0.853 1)">40</text>
<text class="t" text-anchor="end" transform="translate(40.4 385.8) scale(0.853 1)">50</text>
<text class="t" text-anchor="middle" transform="translate(51.9 527.1) scale(0.881 1)"><tspan font-size="15.1px">0</tspan></text>
<text class="t" text-anchor="middle" transform="translate(90.72 527.1) scale(0.881 1)"><tspan font-size="15.1px">0.05</tspan></text>
<text class="t" text-anchor="middle" transform="translate(129.54 527.1) scale(0.881 1)"><tspan font-size="15.1px">0.1</tspan></text>
<text class="t" text-anchor="middle" transform="translate(168.36 527.1) scale(0.881 1)"><tspan font-size="15.1px">0.15</tspan></text>
<text class="t" text-anchor="middle" transform="translate(207.18 527.1) scale(0.881 1)"><tspan font-size="15.1px">0.2</tspan></text>
<text class="t" text-anchor="middle" transform="translate(246 527.1) scale(0.881 1)"><tspan font-size="15.1px">0.25</tspan></text>
<text class="b" text-anchor="middle" transform="translate(150.3 541.6) scale(0.853 1)">Strain</text>
<text class="b" text-anchor="middle" transform="translate(21.8 451.3) rotate(-90) scale(1.052 1)"><tspan font-size="12.7px">Stress (MPa)</tspan></text>
</g>
<g id="panel-f">
<line class="g" x1="347.56" y1="383.6" x2="347.56" y2="507.6"/>
<line class="g" x1="386.52" y1="383.6" x2="386.52" y2="507.6"/>
<line class="g" x1="425.48" y1="383.6" x2="425.48" y2="507.6"/>
<line class="g" x1="464.44" y1="383.6" x2="464.44" y2="507.6"/>
<line class="g" x1="308.6" y1="482.8" x2="503.4" y2="482.8"/>
<line class="g" x1="308.6" y1="458" x2="503.4" y2="458"/>
<line class="g" x1="308.6" y1="433.2" x2="503.4" y2="433.2"/>
<line class="g" x1="308.6" y1="408.4" x2="503.4" y2="408.4"/>
<rect x="308.6" y="383.6" width="194.8" height="124" fill="none" stroke="#1c1c1c" stroke-width="1.3" stroke-linejoin="round"/>
<polyline class="c" stroke="#4070C6" stroke-width="1.34" points="308.7,507.6 308.82,506.1 308.93,504.6"/>
<polyline class="c" stroke="#4070C6" stroke-width="1.66" points="308.93,504.6 309.05,503.1 309.17,501.6"/>
<polyline class="c" stroke="#4070C6" stroke-width="1.99" points="309.17,501.6 309.28,500.1 309.4,498.6"/>
<polyline class="c" stroke="#4070C6" stroke-width="2.31" points="309.4,498.6 309.61,496.66 309.82,494.73"/>
<polyline class="c" stroke="#4070C6" stroke-width="2.64" points="309.82,494.73 310.03,492.79 310.24,490.94"/>
<polyline class="c" stroke="#4070C6" stroke-width="2.8" points="310.24,490.94 310.67,487.23 311.3,481.91 311.93,476.84 312.57,472.02 313.2,467.45 313.83,463.12 314.47,459.04 315.1,455.21 315.73,451.63 316.37,448.29 317,445.2 317.63,442.36 318.27,439.76 318.9,437.41 319.53,435.31 320.17,433.46 320.8,431.85 321.43,430.49 322.07,429.38 322.7,428.51 323.33,427.89 323.97,427.52 324.6,427.4 328,428.4 329.5,429.4"/>
<polyline class="c" stroke="#EC7428" stroke-width="1.05" points="309.3,507.6 309.42,506.1 309.53,504.6"/>
<polyline class="c" stroke="#EC7428" stroke-width="1.31" points="309.53,504.6 309.65,503.1 309.77,501.6"/>
<polyline class="c" stroke="#EC7428" stroke-width="1.56" points="309.77,501.6 309.88,500.1 310,498.6"/>
<polyline class="c" stroke="#EC7428" stroke-width="1.82" points="310,498.6 310.21,496.77 310.42,494.95"/>
<polyline class="c" stroke="#EC7428" stroke-width="2.07" points="310.42,494.95 310.62,493.12 310.83,491.38"/>
<polyline class="c" stroke="#EC7428" stroke-width="2.2" points="310.83,491.38 311.25,487.88 311.88,482.87 312.5,478.1 313.12,473.55 313.75,469.24 314.38,465.17 315,461.32 315.62,457.71 316.25,454.33 316.88,451.19 317.5,448.27 318.12,445.6 318.75,443.15 319.38,440.94 320,438.96 320.62,437.21 321.25,435.69 321.88,434.41 322.5,433.36 323.12,432.55 323.75,431.97 324.38,431.62 325,431.5 326,432.5"/>
<polyline class="c" stroke="#A5A5A5" stroke-width="1.05" points="309.3,507.6 309.42,506.1 309.53,504.6"/>
<polyline class="c" stroke="#A5A5A5" stroke-width="1.31" points="309.53,504.6 309.65,503.1 309.77,501.6"/>
<polyline class="c" stroke="#A5A5A5" stroke-width="1.56" points="309.77,501.6 309.88,500.1 310,498.6"/>
<polyline class="c" stroke="#A5A5A5" stroke-width="1.82" points="310,498.6 310.21,496.76 310.42,494.92"/>
<polyline class="c" stroke="#A5A5A5" stroke-width="2.07" points="310.42,494.92 310.62,493.08 310.83,491.32"/>
<polyline class="c" stroke="#A5A5A5" stroke-width="2.2" points="310.83,491.32 311.25,487.8 311.88,482.76 312.5,477.94 313.12,473.37 313.75,469.03 314.38,464.92 315,461.04 315.62,457.41 316.25,454 316.88,450.83 317.5,447.9 318.12,445.2 318.75,442.74 319.38,440.51 320,438.51 320.62,436.75 321.25,435.23 321.88,433.93 322.5,432.88 323.12,432.06 323.75,431.47 324.38,431.12 325,431 326,432"/>
<polyline class="c" stroke="#FFC000" stroke-width="1.39" points="309.6,507.6 309.72,506.1 309.83,504.6"/>
<polyline class="c" stroke="#FFC000" stroke-width="1.72" points="309.83,504.6 309.95,503.1 310.07,501.6"/>
<polyline class="c" stroke="#FFC000" stroke-width="2.06" points="310.07,501.6 310.18,500.1 310.3,498.6"/>
<polyline class="c" stroke="#FFC000" stroke-width="2.4" points="310.3,498.6 310.53,496.79 310.76,494.97"/>
<polyline class="c" stroke="#FFC000" stroke-width="2.73" points="310.76,494.97 310.99,493.16 311.23,491.42"/>
<polyline class="c" stroke="#FFC000" stroke-width="2.9" points="311.23,491.42 311.69,487.95 312.38,482.97 313.07,478.22 313.75,473.7 314.43,469.42 315.1,465.37 315.77,461.54 316.42,457.95 317.07,454.6 317.72,451.47 318.35,448.57 318.97,445.91 319.59,443.48 320.2,441.28 320.8,439.31 321.39,437.57 321.98,436.07 322.56,434.79 323.13,433.75 323.7,432.94 324.27,432.36 324.84,432.02 325.4,431.9 327.3,432.8 326.6,435.6"/>
<polyline class="c" stroke="#5B9BD5" stroke-width="1.53" points="308.6,507.6 308.72,506.1 308.83,504.6"/>
<polyline class="c" stroke="#5B9BD5" stroke-width="1.9" points="308.83,504.6 308.95,503.1 309.07,501.6"/>
<polyline class="c" stroke="#5B9BD5" stroke-width="2.27" points="309.07,501.6 309.18,500.1 309.3,498.6"/>
<polyline class="c" stroke="#5B9BD5" stroke-width="2.64" points="309.3,498.6 309.52,496.63 309.74,494.65"/>
<polyline class="c" stroke="#5B9BD5" stroke-width="3.01" points="309.74,494.65 309.95,492.68 310.17,490.79"/>
<polyline class="c" stroke="#5B9BD5" stroke-width="3.2" points="310.17,490.79 310.61,487 311.26,481.58 311.92,476.42 312.57,471.5 313.23,466.84 313.88,462.43 314.53,458.27 315.19,454.36 315.84,450.7 316.5,447.3 317.15,444.15 317.8,441.25 318.46,438.6 319.11,436.21 319.77,434.07 320.42,432.18 321.07,430.54 321.73,429.15 322.38,428.02 323.04,427.13 323.69,426.5 324.35,426.13 325,426 327.5,426.5 329.6,428.4"/>
<rect x="427.5" y="429" width="74.9" height="77.6" fill="#fff"/>
<line x1="431.8" y1="439.9" x2="458.5" y2="439.9" stroke="#4070C6" stroke-width="1.55"/>
<text class="t" transform="translate(460.1 443.7) scale(0.853 1)">Spec 1</text>
<line x1="431.8" y1="454.56" x2="458.5" y2="454.56" stroke="#EC7428" stroke-width="1.55"/>
<text class="t" transform="translate(460.1 458.36) scale(0.853 1)">Spec 2</text>
<line x1="431.8" y1="469.22" x2="458.5" y2="469.22" stroke="#A5A5A5" stroke-width="1.55"/>
<text class="t" transform="translate(460.1 473.02) scale(0.853 1)">Spec 3</text>
<line x1="431.8" y1="483.88" x2="458.5" y2="483.88" stroke="#FFC000" stroke-width="1.55"/>
<text class="t" transform="translate(460.1 487.68) scale(0.853 1)">Spec 4</text>
<line x1="431.8" y1="498.54" x2="458.5" y2="498.54" stroke="#5B9BD5" stroke-width="1.55"/>
<text class="t" transform="translate(460.1 502.34) scale(0.853 1)">Spec 5</text>
<rect x="399.1" y="390" width="14.5" height="15.4" fill="#fff"/>
<rect x="419.2" y="390" width="43.8" height="15.4" fill="#fff"/>
<text class="t" transform="translate(399.6 401.5) scale(0.957 1)"><tspan font-size="13.9px">(f)</tspan></text>
<text class="s" transform="translate(419.5 401.8) scale(0.942 1)"><tspan font-size="13.8px">15 <tspan font-style="italic">wt %</tspan></tspan></text>
<text class="t" text-anchor="end" transform="translate(296.9 511.9) scale(0.853 1)">0</text>
<text class="t" text-anchor="end" transform="translate(296.9 487.1) scale(0.853 1)">10</text>
<text class="t" text-anchor="end" transform="translate(296.9 462.3) scale(0.853 1)">20</text>
<text class="t" text-anchor="end" transform="translate(296.9 437.5) scale(0.853 1)">30</text>
<text class="t" text-anchor="end" transform="translate(296.9 412.7) scale(0.853 1)">40</text>
<text class="t" text-anchor="end" transform="translate(296.9 387.9) scale(0.853 1)">50</text>
<text class="t" text-anchor="middle" transform="translate(308.6 527.2) scale(0.881 1)"><tspan font-size="15.1px">0</tspan></text>
<text class="t" text-anchor="middle" transform="translate(347.66 527.2) scale(0.881 1)"><tspan font-size="15.1px">0.05</tspan></text>
<text class="t" text-anchor="middle" transform="translate(386.72 527.2) scale(0.881 1)"><tspan font-size="15.1px">0.1</tspan></text>
<text class="t" text-anchor="middle" transform="translate(425.78 527.2) scale(0.881 1)"><tspan font-size="15.1px">0.15</tspan></text>
<text class="t" text-anchor="middle" transform="translate(464.84 527.2) scale(0.881 1)"><tspan font-size="15.1px">0.2</tspan></text>
<text class="t" text-anchor="middle" transform="translate(503.9 527.2) scale(0.881 1)"><tspan font-size="15.1px">0.25</tspan></text>
<text class="b" text-anchor="middle" transform="translate(407 542.1) scale(0.853 1)">Strain</text>
<text class="b" text-anchor="middle" transform="translate(277.9 453.4) rotate(-90) scale(1.052 1)"><tspan font-size="12.7px">Stress (MPa)</tspan></text>
</g>
</svg>
</body>
</html>
